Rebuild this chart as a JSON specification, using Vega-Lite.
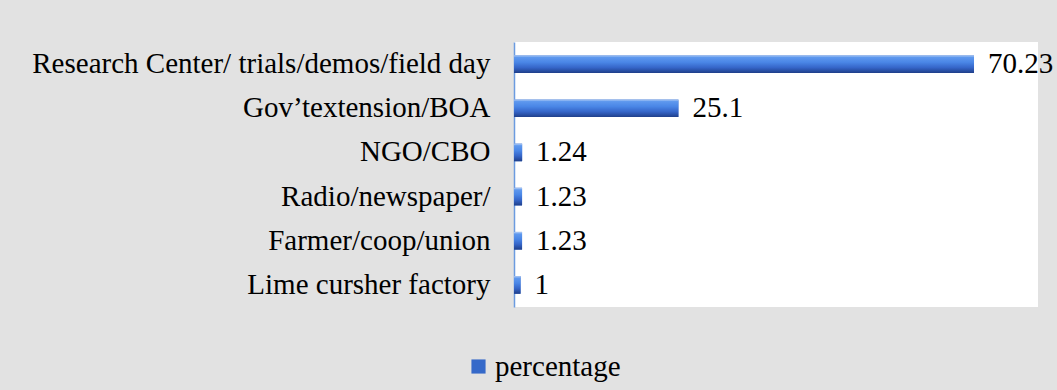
{
  "$schema": "https://vega.github.io/schema/vega-lite/v6.json",
  "autosize": {"type": "none"},
  "width": 524,
  "height": 265,
  "padding": {"left": 514, "top": 42, "right": 19, "bottom": 83},
  "background": "#e2e2e2",
  "config": {
    "view": {"fill": "white", "stroke": null},
    "font": "Liberation Serif"
  },
  "data": {
    "values": [
      {"source": "Research Center/ trials/demos/field day", "percentage": 70.23, "series": "percentage"},
      {"source": "Gov’textension/BOA", "percentage": 25.1, "series": "percentage"},
      {"source": "NGO/CBO", "percentage": 1.24, "series": "percentage"},
      {"source": "Radio/newspaper/", "percentage": 1.23, "series": "percentage"},
      {"source": "Farmer/coop/union", "percentage": 1.23, "series": "percentage"},
      {"source": "Lime cursher factory", "percentage": 1, "series": "percentage"}
    ]
  },
  "encoding": {
    "y": {
      "field": "source", "type": "nominal", "sort": null,
      "scale": {"paddingInner": 0.6, "paddingOuter": 0.3},
      "axis": {
        "title": null, "ticks": false, "labelFont": "Liberation Serif", "labelFontSize": 29,
        "labelColor": "black", "labelPadding": 24, "labelLimit": 800,
        "domainColor": "#6b9be0", "domainWidth": 1.5
      }
    },
    "x": {
      "field": "percentage", "type": "quantitative",
      "scale": {"domain": [0, 80], "nice": false},
      "axis": null
    }
  },
  "layer": [
    {
      "mark": {"type": "bar"},
      "encoding": {
        "color": {
          "field": "series", "type": "nominal",
          "scale": {"range": ["#3569c9"]},
          "legend": {
            "title": null, "orient": "none", "legendX": -50, "legendY": 310,
            "symbolType": "square", "symbolSize": 200, "symbolStrokeWidth": 0,
            "labelFont": "Liberation Serif", "labelFontSize": 29, "labelColor": "black",
            "labelOffset": 2
          }
        }
      }
    },
    {
      "mark": {
        "type": "bar",
        "color": {
          "gradient": "linear", "x1": 0, "y1": 0, "x2": 0, "y2": 1,
          "stops": [
            {"offset": 0, "color": "#b5cff5"},
            {"offset": 0.12, "color": "#5e98ee"},
            {"offset": 0.4, "color": "#4a86e6"},
            {"offset": 0.7, "color": "#3565c8"},
            {"offset": 1, "color": "#1f3f8a"}
          ]
        }
      }
    },
    {
      "mark": {"type": "text", "align": "left", "baseline": "middle", "dx": 14, "fontSize": 29, "font": "Liberation Serif", "color": "black"},
      "encoding": {"text": {"field": "percentage", "type": "quantitative"}}
    }
  ]
}
